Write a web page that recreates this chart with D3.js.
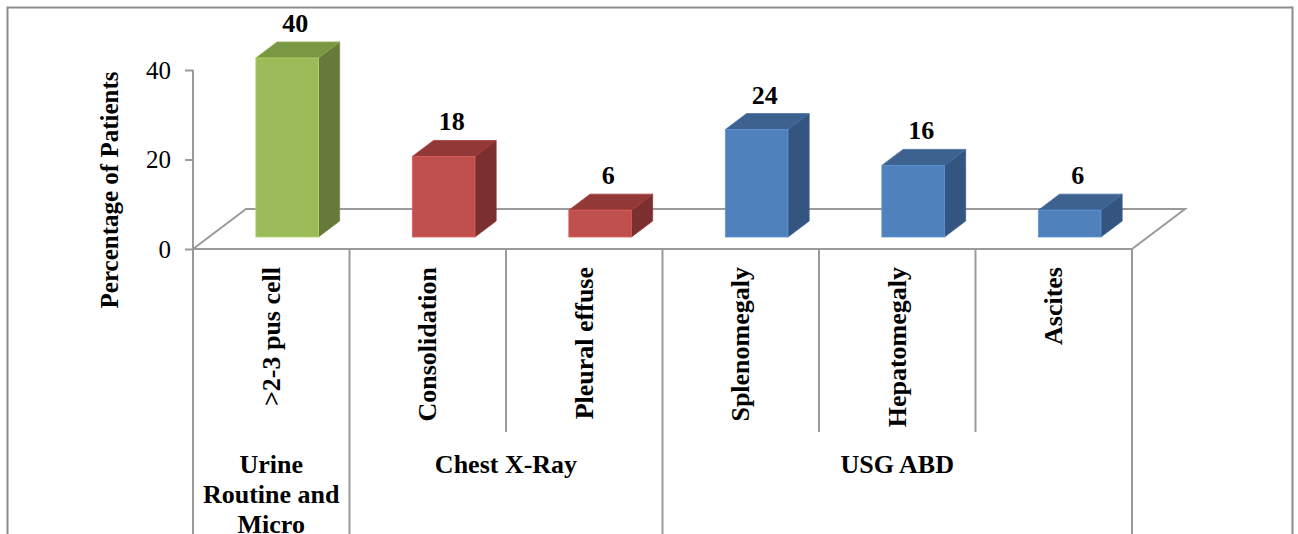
<!DOCTYPE html>
<html>
<head>
<meta charset="utf-8">
<script src="https://cdn.jsdelivr.net/npm/d3@7"></script>
<style>
  html, body { margin: 0; padding: 0; background: #ffffff; }
  svg { display: block; }
  text { font-family: "Liberation Serif", "Times New Roman", serif; fill: #000; }
</style>
</head>
<body>
<svg id="chart" width="1298" height="534"></svg>
<script>
// ---- data ----
const categories = [">2-3 pus cell", "Consolidation", "Pleural effuse", "Splenomegaly", "Hepatomegaly", "Ascites"];
const values = [40, 18, 6, 24, 16, 6];
const categoryGroup = [0, 1, 1, 2, 2, 2];
const groupNames = ["Urine Routine and Micro", "Chest X-Ray", "USG ABD"];
const yTicks = [0, 20, 40];
const axisTitle = "Percentage of Patients";

// ---- styling ----
const frontColors = ["#9BBB59", "#C0504D", "#4F81BD"];
const topColors = ["#7A9843", "#923837", "#3D6290"];
const sideColors = ["#667B39", "#7B302F", "#335580"];
const lineColor = "#9A9A9A";

const svg = d3.select("#chart");

// outer border
svg.append("rect")
  .attr("x", 7.5).attr("y", 7.5)
  .attr("width", 1285).attr("height", 620)
  .attr("fill", "none").attr("stroke", "#8C8C8C").attr("stroke-width", 2);

// scales
const x = d3.scaleBand().domain(categories).range([193, 1132]).paddingInner(0).paddingOuter(0);
const y = d3.scaleLinear().domain([0, 40]).range([249, 70]);

// 3D depth vector of the floor
const depthX = 53, depthY = -40;
const barT0 = 0.3, barT1 = 0.7;   // bar occupies this fraction of depth
const barFrac = 0.4;               // bar width as a fraction of band

const x0 = x.range()[0], x1 = x.range()[1], y0 = y(0);

// floor outline
const floor = svg.append("g").attr("fill", "none").attr("stroke", lineColor).attr("stroke-width", 2);
floor.append("path")
  .attr("d", `M${x0},${y0} L${x0 + depthX},${y0 + depthY} L${x1 + depthX},${y0 + depthY} L${x1},${y0} Z`)
  .attr("stroke-linejoin", "miter");

// y axis
const yAxis = d3.axisLeft(y).tickValues(yTicks).tickSize(8).tickPadding(14);
const gy = svg.append("g").attr("transform", `translate(${x0},0)`).call(yAxis);
gy.select(".domain").attr("stroke", lineColor).attr("stroke-width", 2).attr("d", `M-0,${y(40)}V${y0}`);
gy.selectAll(".tick line").attr("stroke", lineColor).attr("stroke-width", 2);
gy.selectAll(".tick text")
  .style("font-family", '"Liberation Serif", "Times New Roman", serif')
  .style("font-size", "25px").attr("fill", "#000");

// axis title
svg.append("text")
  .attr("transform", `translate(109,190) rotate(-90)`)
  .attr("text-anchor", "middle").attr("dominant-baseline", "central")
  .style("font-size", "25px").style("font-weight", "bold")
  .text(axisTitle);

// bars (3D)
const bw = x.bandwidth() * barFrac;
const dX0 = depthX * barT0, dY0 = depthY * barT0;
const dXb = depthX * (barT1 - barT0), dYb = depthY * (barT1 - barT0);

const bars = svg.append("g").selectAll("g").data(categories).join("g");
bars.each(function (c, i) {
  const g = d3.select(this);
  const gi = categoryGroup[i];
  const left = x(c) + (x.bandwidth() - bw) / 2 + dX0;
  const right = left + bw;
  const bottom = y0 + dY0;
  const top = y(values[i]) + dY0;
  // side
  g.append("path")
    .attr("d", `M${right},${top} L${right + dXb},${top + dYb} L${right + dXb},${bottom + dYb} L${right},${bottom} Z`)
    .attr("fill", sideColors[gi]).attr("stroke", d3.color(sideColors[gi]).brighter(0.3)).attr("stroke-width", 0.8);
  // top
  g.append("path")
    .attr("d", `M${left},${top} L${left + dXb},${top + dYb} L${right + dXb},${top + dYb} L${right},${top} Z`)
    .attr("fill", topColors[gi]).attr("stroke", d3.color(topColors[gi]).brighter(0.3)).attr("stroke-width", 0.8);
  // front
  g.append("rect")
    .attr("x", left).attr("y", top).attr("width", bw).attr("height", bottom - top)
    .attr("fill", frontColors[gi]).attr("stroke", d3.color(frontColors[gi]).brighter(0.4)).attr("stroke-width", 0.8);
  // value label
  g.append("text")
    .attr("x", left + bw / 2 + 8).attr("y", top - 26)
    .attr("text-anchor", "middle")
    .style("font-size", "26px").style("font-weight", "bold")
    .text(values[i]);
});

// category table below the floor
const tableBottom = 640;
const lines = svg.append("g").attr("stroke", lineColor).attr("stroke-width", 2);
categories.forEach((c, i) => {
  const xl = x(c);
  const newGroup = i === 0 || categoryGroup[i] !== categoryGroup[i - 1];
  lines.append("line").attr("x1", xl).attr("x2", xl).attr("y1", y0).attr("y2", newGroup ? tableBottom : 432);
});
lines.append("line").attr("x1", x1).attr("x2", x1).attr("y1", y0).attr("y2", tableBottom);

// category labels (rotated)
svg.append("g").selectAll("text").data(categories).join("text")
  .attr("transform", c => `translate(${x(c) + x.bandwidth() / 2},267) rotate(-90)`)
  .attr("text-anchor", "end").attr("dominant-baseline", "central")
  .style("font-size", "26px").style("font-weight", "bold")
  .text(c => c);

// group labels (wrapped)
groupNames.forEach((name, gi) => {
  const members = categories.filter((c, i) => categoryGroup[i] === gi);
  const gx0 = x(members[0]);
  const gx1 = x(members[members.length - 1]) + x.bandwidth();
  const maxW = gx1 - gx0 - 10;
  const t = svg.append("text")
    .attr("text-anchor", "middle")
    .style("font-size", "26px").style("font-weight", "bold");
  const words = name.split(" ");
  let line = [];
  let lineNo = 0;
  let tspan = t.append("tspan").attr("x", (gx0 + gx1) / 2).attr("y", 473);
  words.forEach(w => {
    line.push(w);
    tspan.text(line.join(" "));
    if (tspan.node().getComputedTextLength() > maxW && line.length > 1) {
      line.pop();
      tspan.text(line.join(" "));
      line = [w];
      lineNo++;
      tspan = t.append("tspan").attr("x", (gx0 + gx1) / 2).attr("y", 473 + lineNo * 30).text(w);
    }
  });
});
</script>
</body>
</html>
